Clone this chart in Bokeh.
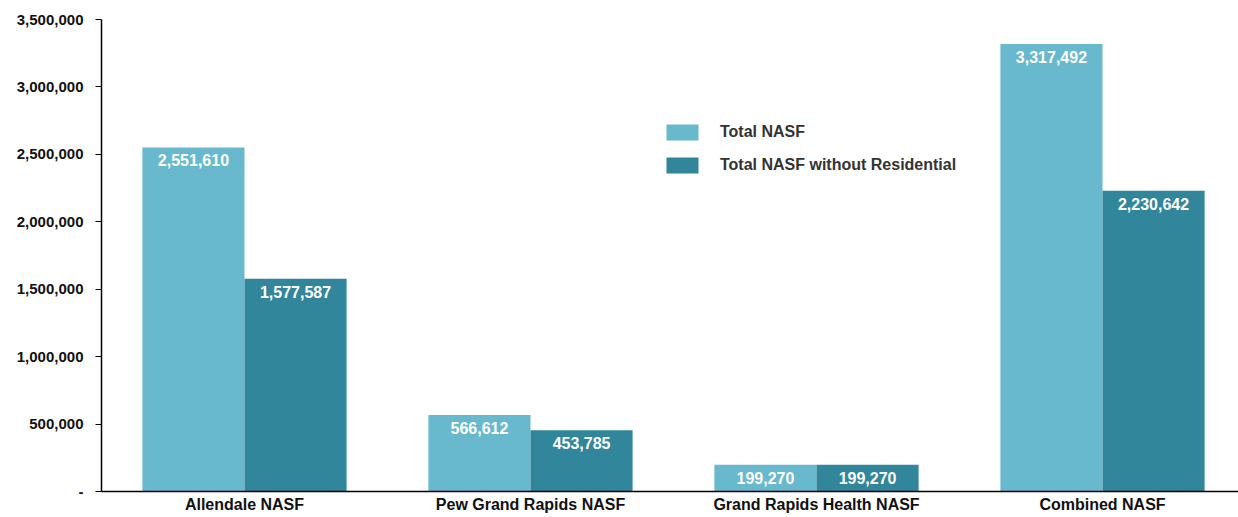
from bokeh.plotting import figure
from bokeh.models import ColumnDataSource, Legend, LegendItem, FixedTicker, Range1d, LabelSet
from bokeh.core.properties import value
from bokeh.embed import file_html
from bokeh.resources import INLINE

categories = ["Allendale NASF", "Pew Grand Rapids NASF", "Grand Rapids Health NASF", "Combined NASF"]
total_nasf = [2551610, 566612, 199270, 3317492]
total_no_res = [1577587, 453785, 199270, 2230642]
series_names = ["Total NASF", "Total NASF without Residential"]
y_ticks = [0, 500000, 1000000, 1500000, 2000000, 2500000, 3000000, 3500000]
y_tick_labels = ["-", "500,000", "1,000,000", "1,500,000", "2,000,000", "2,500,000", "3,000,000", "3,500,000"]

LIGHT = "#68B8CE"
DARK = "#32869C"
FONT = "Liberation Sans"

xc = [i + 0.5 for i in range(len(categories))]
bw = 0.357
src = ColumnDataSource(dict(
    x1=[x - bw / 2 for x in xc], x2=[x + bw / 2 for x in xc],
    v1=total_nasf, v2=total_no_res,
    t1=[f"{v:,}" for v in total_nasf], t2=[f"{v:,}" for v in total_no_res],
))

p = figure(frame_width=1137, frame_height=472, output_backend="svg", toolbar_location=None,
           x_range=Range1d(0, 1137 / 286), y_range=Range1d(0, 3500000),
           min_border_left=101, min_border_top=19, min_border_right=0, min_border_bottom=0)
p.outline_line_color = None
p.grid.visible = False
p.background_fill_color = "white"

r1 = p.vbar(x="x1", top="v1", width=bw, source=src, fill_color=LIGHT, line_color=None)
r2 = p.vbar(x="x2", top="v2", width=bw, source=src, fill_color=DARK, line_color=None)

for xcol, ycol, tcol in (("x1", "v1", "t1"), ("x2", "v2", "t2")):
    p.add_layout(LabelSet(x=xcol, y=ycol, text=tcol, source=src, text_align="center",
                          text_baseline="top", y_offset=-7, text_color="white",
                          text_font=value(FONT), text_font_style="bold", text_font_size="16px"))

# Y axis
p.yaxis.ticker = FixedTicker(ticks=y_ticks)
p.yaxis.major_label_overrides = {t: l for t, l in zip(y_ticks, y_tick_labels)}
p.yaxis.minor_tick_line_color = None
p.yaxis.major_tick_in = 0
p.yaxis.major_tick_out = 6
p.yaxis.axis_line_color = "black"
p.yaxis.axis_line_width = 1.5
p.yaxis.major_tick_line_color = "black"
p.yaxis.major_label_text_font = FONT
p.yaxis.major_label_text_font_style = "bold"
p.yaxis.major_label_text_font_size = "15px"
p.yaxis.major_label_text_color = "#111111"
p.yaxis.major_label_standoff = 12

# X axis
p.xaxis.ticker = FixedTicker(ticks=xc)
p.xaxis.major_label_overrides = {x: c for x, c in zip(xc, categories)}
p.xaxis.major_tick_line_color = None
p.xaxis.minor_tick_line_color = None
p.xaxis.axis_line_color = "black"
p.xaxis.axis_line_width = 1.5
p.xaxis.major_tick_in = 0
p.xaxis.major_tick_out = 0
p.xaxis.major_label_text_font = FONT
p.xaxis.major_label_text_font_style = "bold"
p.xaxis.major_label_text_font_size = "16px"
p.xaxis.major_label_text_color = "#111111"
p.xaxis.major_label_standoff = 4

legend = Legend(items=[LegendItem(label=series_names[0], renderers=[r1]),
                       LegendItem(label=series_names[1], renderers=[r2])],
                location=(561, 316), glyph_width=40, glyph_height=20, spacing=13,
                padding=0, margin=0, label_standoff=18,
                label_text_font=FONT, label_text_font_style="bold",
                label_text_font_size="16px", label_text_color="#333333",
                background_fill_alpha=0, border_line_color=None)
p.add_layout(legend)

open("out.html", "w").write(file_html(p, INLINE))
